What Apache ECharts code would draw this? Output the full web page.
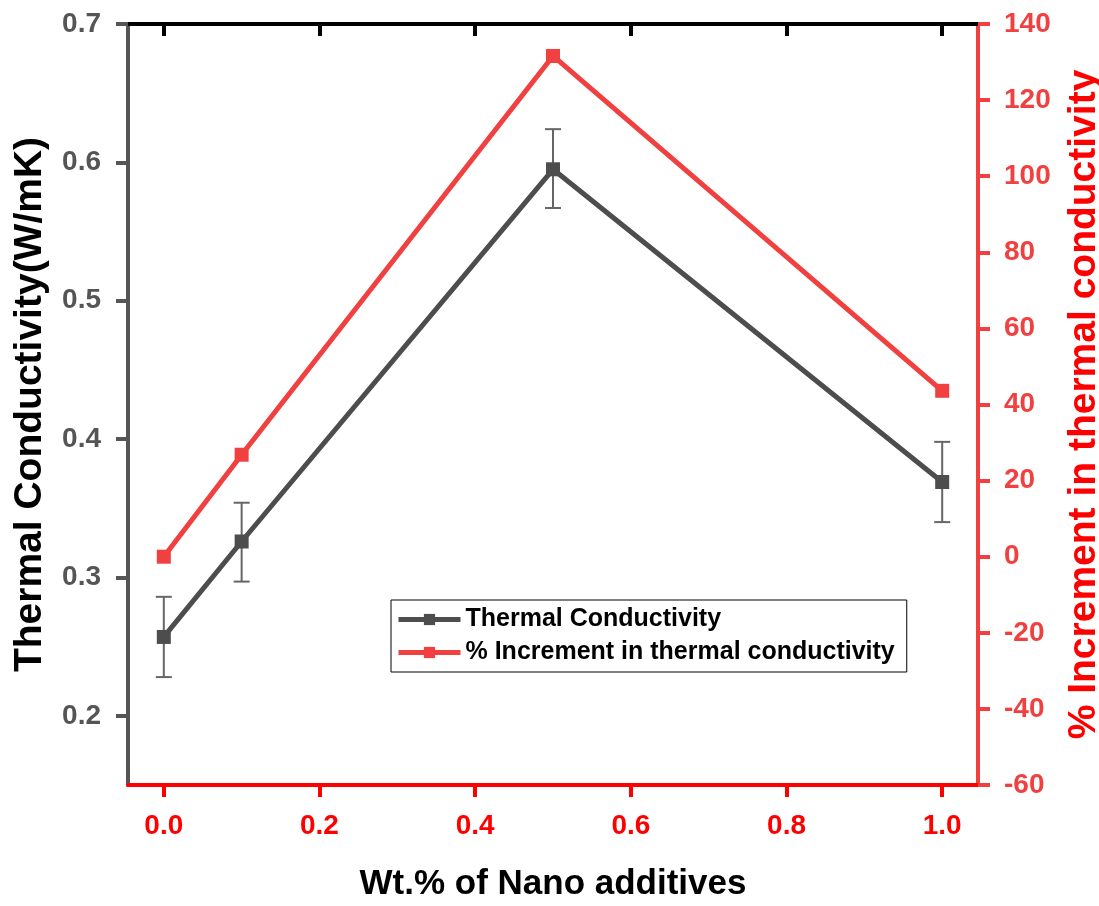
<!DOCTYPE html>
<html><head><meta charset="utf-8">
<script src="https://cdn.jsdelivr.net/npm/echarts@6/dist/echarts.min.js"></script>
<style>html,body{margin:0;padding:0;background:#fff}#c{width:1099px;height:906px}</style>
</head><body><div id="c"></div>
<script>
const xValues = [0.0, 0.1, 0.5, 1.0];
const conductivity = [0.257, 0.326, 0.595, 0.369];
const errLow = [0.228, 0.297, 0.567, 0.340];
const errHigh = [0.286, 0.354, 0.624, 0.398];
const increment = [0.0, 26.8, 131.6, 43.6];
const xTicks = [0.0, 0.2, 0.4, 0.6, 0.8, 1.0];
const leftTicks = [0.2, 0.3, 0.4, 0.5, 0.6, 0.7];
const names = ['Thermal Conductivity', '% Increment in thermal conductivity'];

const gray = '#4d4d4d', red = '#f0403f', axisRed = '#ff0000';
const chart = echarts.init(document.getElementById('c'));
const font = 'Arial, "Liberation Sans", sans-serif';
chart.setOption({
  animation: false,
  grid: {left: 128, right: 121, top: 24, bottom: 121, containLabel: false, outerBoundsMode: 'none'},
  legend: {
    left: 391, top: 600, orient: 'vertical', itemGap: 8,
    padding: [7, 12, 7, 5], borderColor: '#000', borderWidth: 1,
    itemWidth: 62, itemHeight: 14,
    lineStyle: {width: 5},
    textStyle: {fontFamily: font, fontWeight: 'bold', fontSize: 25, color: '#000'},
    data: names
  },
  xAxis: [{
    type: 'value', min: -0.046, max: 1.046, position: 'bottom',
    name: 'Wt.% of Nano additives', nameLocation: 'middle', nameGap: 82, nameMoveOverlap: false,
    nameTextStyle: {fontFamily: font, fontWeight: 'bold', fontSize: 35, color: '#000'},
    axisLine: {onZero: false, lineStyle: {color: axisRed, width: 4}},
    axisTick: {show: true, inside: false, length: 12, lineStyle: {color: axisRed, width: 4}, customValues: xTicks},
    axisLabel: {color: axisRed, fontFamily: font, fontWeight: 'bold', fontSize: 28, margin: 27,
      customValues: xTicks, formatter: v => v.toFixed(1)},
    splitLine: {show: false}
  }, {
    type: 'value', min: -0.046, max: 1.046, position: 'top',
    axisLine: {onZero: false, lineStyle: {color: '#000', width: 4}},
    axisTick: {show: true, inside: true, length: 12, lineStyle: {color: '#000', width: 4}, customValues: xTicks},
    axisLabel: {show: false}, splitLine: {show: false}
  }],
  yAxis: [{
    type: 'value', min: 0.15, max: 0.7, position: 'left',
    name: 'Thermal Conductivity(W/mK)', nameLocation: 'middle', nameGap: 78, nameRotate: 90, nameMoveOverlap: false,
    nameTextStyle: {fontFamily: font, fontWeight: 'bold', fontSize: 39, color: '#000'},
    axisLine: {show: true, onZero: false, lineStyle: {color: '#555', width: 4}},
    axisTick: {show: true, inside: false, length: 12, lineStyle: {color: '#555', width: 4}, customValues: leftTicks},
    axisLabel: {color: '#555', fontFamily: font, fontWeight: 'bold', fontSize: 28, margin: 27,
      customValues: leftTicks, formatter: v => v.toFixed(1)},
    splitLine: {show: false}
  }, {
    type: 'value', min: -60, max: 140, interval: 20, position: 'right',
    name: '% Increment in thermal conductivity', nameLocation: 'middle', nameGap: 87, nameRotate: 90, nameMoveOverlap: false,
    nameTextStyle: {fontFamily: font, fontWeight: 'bold', fontSize: 39, color: axisRed},
    axisLine: {show: true, onZero: false, lineStyle: {color: red, width: 4}},
    axisTick: {show: true, inside: false, length: 12, lineStyle: {color: red, width: 4}},
    axisLabel: {color: red, fontFamily: font, fontWeight: 'bold', fontSize: 28, margin: 26},
    splitLine: {show: false}
  }],
  series: [{
    type: 'custom', yAxisIndex: 0, silent: true, z: 1,
    data: xValues.map((x, i) => [x, errLow[i], errHigh[i]]),
    renderItem: (params, api) => {
      const lo = api.coord([api.value(0), api.value(1)]);
      const hi = api.coord([api.value(0), api.value(2)]);
      const w = 8;
      const st = {stroke: '#666', lineWidth: 2};
      return {type: 'group', children: [
        {type: 'line', shape: {x1: lo[0], y1: lo[1], x2: hi[0], y2: hi[1]}, style: st},
        {type: 'line', shape: {x1: lo[0]-w, y1: lo[1], x2: lo[0]+w, y2: lo[1]}, style: st},
        {type: 'line', shape: {x1: hi[0]-w, y1: hi[1], x2: hi[0]+w, y2: hi[1]}, style: st}
      ]};
    }
  }, {
    name: names[0], type: 'line', yAxisIndex: 0, z: 3,
    data: xValues.map((x, i) => [x, conductivity[i]]),
    symbol: 'rect', symbolSize: 14,
    lineStyle: {color: gray, width: 5}, itemStyle: {color: gray}
  }, {
    name: names[1], type: 'line', yAxisIndex: 1, z: 3,
    data: xValues.map((x, i) => [x, increment[i]]),
    symbol: 'rect', symbolSize: 14,
    lineStyle: {color: red, width: 5}, itemStyle: {color: red}
  }]
});
</script></body></html>
